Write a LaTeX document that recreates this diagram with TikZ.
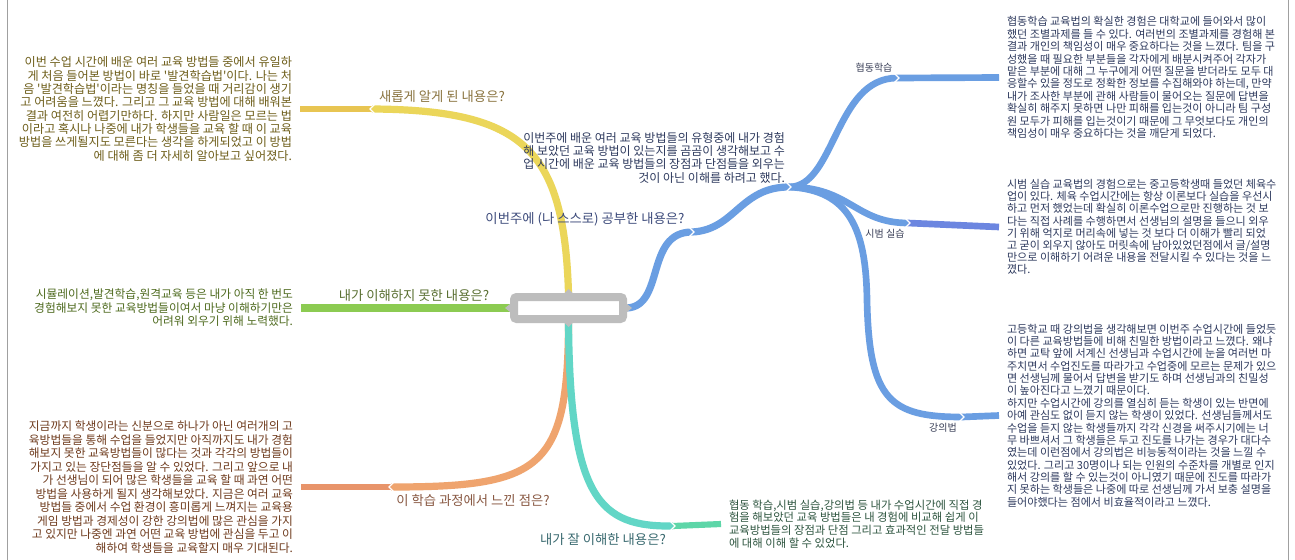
\documentclass[tikz,border=0pt]{standalone}
\usepackage{fontspec}
\newfontfamily\kr{Noto Sans CJK KR}
\definecolor{cyel}{HTML}{EBD65A}
\definecolor{cyel2}{HTML}{E8C552}
\definecolor{cgrn}{HTML}{8CCB52}
\definecolor{corg}{HTML}{EFA46E}
\definecolor{corg2}{HTML}{E8946A}
\definecolor{cteal}{HTML}{62D6C6}
\definecolor{cteal2}{HTML}{5DD6A8}
\definecolor{cblue}{HTML}{6A9EE2}
\definecolor{cblue2}{HTML}{6C86E0}
\definecolor{cgray}{HTML}{BDBDBD}
\definecolor{cframe}{HTML}{A0A0A0}
\definecolor{tyel}{HTML}{6E5E1A}
\definecolor{tgrn}{HTML}{4E6A1E}
\definecolor{torg}{HTML}{6E3A1C}
\definecolor{tteal}{HTML}{2E5540}
\definecolor{tblue}{HTML}{2E3A5E}
\definecolor{lyel}{HTML}{8A7440}
\definecolor{lblue}{HTML}{3E4C7C}
\definecolor{lgrn}{HTML}{5A7032}
\definecolor{lorg}{HTML}{8A5A44}
\definecolor{lteal}{HTML}{3A6A70}
\definecolor{lsub}{HTML}{3A4058}
\pgfdeclarelayer{bg}
\pgfdeclarelayer{lines}
\pgfsetlayers{bg,lines,main}
\tikzset{
  body/.style 2 args={font=\kr\fontsize{#1}{#2}\selectfont, inner sep=0pt, outer xsep=6pt, outer ysep=0pt},
  lbl/.style={font=\kr\fontsize{10}{12}\selectfont, inner sep=0pt},
  sublbl/.style={font=\kr\fontsize{7.5}{8}\selectfont, inner sep=0pt, text=lsub},
  br/.style={line width=5.4pt},
  brend/.style={line width=4.6pt},
  brsub/.style={line width=5pt, cblue},
  notchr/.style={white, line width=1pt},
}
\begin{document}
\begin{tikzpicture}[x=0.75pt,y=-0.75pt]
\useasboundingbox (0,0) rectangle (1295,560);
\begin{pgfonlayer}{bg}
\fill[white] (0,0) rectangle (1295,560);
\draw[cframe, line width=0.75pt] (7,0) -- (7,560);
\draw[cframe, line width=0.75pt] (1288,0) -- (1288,560);
\end{pgfonlayer}

% center
\node[draw=cgray, line width=6pt, fill=white, rounded corners=2pt, minimum width=81.75pt, minimum height=16.5pt, inner sep=0pt] (ctr) at (568.5,308) {};

% text blocks
\node[body={9.1}{10}, text=tyel, align=right, anchor=east] (ytxt) at (300,109) {이번 수업 시간에 배운 여러 교육 방법들 중에서 유일하\\게 처음 들어본 방법이 바로 '발견학습법'이다. 나는 처\\음 '발견학습법'이라는 명칭을 들었을 때 거리감이 생기\\고 어려움을 느꼈다. 그리고 그 교육 방법에 대해 배워본\\결과 여전히 어렵기만하다. 하지만 사람일은 모르는 법\\이라고 혹시나 나중에 내가 학생들을 교육 할 때 이 교육\\방법을 쓰게될지도 모른다는 생각을 하게되었고 이 방법\\에 대해 좀 더 자세히 알아보고 싶어졌다.};

\node[body={8.8}{10.1}, text=tgrn, align=right, anchor=east] (gtxt) at (301,308) {시뮬레이션,발견학습,원격교육 등은 내가 아직 한 번도\\경험해보지 못한 교육방법들이여서 마냥 이해하기만은\\어려워 외우기 위해 노력했다.};

\node[body={8.8}{10.1}, text=torg, align=right, anchor=east] (otxt) at (301,487) {지금까지 학생이라는 신분으로 하나가 아닌 여러개의 고\\육방법들을 통해 수업을 들었지만 아직까지도 내가 경험\\해보지 못한 교육방법들이 많다는 것과 각각의 방법들이\\가지고 있는 장단점들을 알 수 있었다. 그리고 앞으로 내\\가 선생님이 되어 많은 학생들을 교육 할 때 과연 어떤\\방법을 사용하게 될지 생각해보았다. 지금은 여러 교육\\방법들 중에서 수업 환경이 흥미롭게 느껴지는 교육용\\게임 방법과 경제성이 강한 강의법에 많은 관심을 가지\\고 있지만 나중엔 과연 어떤 교육 방법에 관심을 두고 이\\해하여 학생들을 교육할지 매우 기대된다.};

\node[body={8.5}{9.5}, text=tteal, align=left, anchor=west] (ttxt) at (721,524) {협동 학습,시범 실습,강의법 등 내가 수업시간에 직접 경\\험을 해보았던 교육 방법들은 내 경험에 비교해 쉽게 이\\교육방법들의 장점과 단점 그리고 효과적인 전달 방법들\\에 대해 이해 할 수 있었다.};

\node[body={9}{10}, text=tblue, align=right, anchor=south east] (mtxt) at (793,183) {이번주에 배운 여러 교육 방법들의 유형중에 내가 경험\\해 보았던 교육 방법이 있는지를 곰곰이 생각해보고 수\\업 시간에 배운 교육 방법들의 장점과 단점들을 외우는\\것이 아닌 이해를 하려고 했다.};

\node[body={8.3}{9.3}, text=tblue, align=left, anchor=west] (htxt) at (999,77.5) {협동학습 교육법의 확실한 경험은 대학교에 들어와서 많이\\했던 조별과제를 들 수 있다. 여러번의 조별과제를 경험해 본\\결과 개인의 책임성이 매우 중요하다는 것을 느꼈다. 팀을 구\\성했을 때 필요한 부분들을 각자에게 배분시켜주어 각자가\\맡은 부분에 대해 그 누구에게 어떤 질문을 받더라도 모두 대\\응할수 있을 정도로 정확한 정보를 수집해와야 하는데, 만약\\내가 조사한 부분에 관해 사람들이 물어오는 질문에 답변을\\확실히 해주지 못하면 나만 피해를 입는것이 아니라 팀 구성\\원 모두가 피해를 입는것이기 때문에 그 무엇보다도 개인의\\책임성이 매우 중요하다는 것을 깨닫게 되었다.};

\node[body={8.3}{9.1}, text=tblue, align=left, anchor=west] (stxt) at (999,227) {시범 실습 교육법의 경험으로는 중고등학생때 들었던 체육수\\업이 있다. 체육 수업시간에는 항상 이론보다 실습을 우선시\\하고 먼저 했었는데 확실히 이론수업으로만 진행하는 것 보\\다는 직접 사례를 수행하면서 선생님의 설명을 들으니 외우\\기 위해 억지로 머리속에 넣는 것 보다 더 이해가 빨리 되었\\고 굳이 외우지 않아도 머릿속에 남아있었던점에서 글/설명\\만으로 이해하기 어려운 내용을 전달시킬 수 있다는 것을 느\\꼈다.};

\node[body={8.3}{9.27}, text=tblue, align=left, anchor=west] (ktxt) at (999,415.5) {고등학교 때 강의법을 생각해보면 이번주 수업시간에 들었듯\\이 다른 교육방법들에 비해 친밀한 방법이라고 느꼈다. 왜냐\\하면 교탁 앞에 서계신 선생님과 수업시간에 눈을 여러번 마\\주치면서 수업진도를 따라가고 수업중에 모르는 문제가 있으\\면 선생님께 물어서 답변을 받기도 하며 선생님과의 친밀성\\이 높아진다고 느꼈기 때문이다.\\하지만 수업시간에 강의를 열심히 듣는 학생이 있는 반면에\\아예 관심도 없이 듣지 않는 학생이 있었다. 선생님들께서도\\수업을 듣지 않는 학생들까지 각각 신경을 써주시기에는 너\\무 바쁘셔서 그 학생들은 두고 진도를 나가는 경우가 대다수\\였는데 이런점에서 강의법은 비능동적이라는 것을 느낄 수\\있었다. 그리고 30명이나 되는 인원의 수준차를 개별로 인지\\해서 강의를 할 수 있는것이 아니였기 때문에 진도를 따라가\\지 못하는 학생들은 나중에 따로 선생님께 가서 보충 설명을\\들어야했다는 점에서 비효율적이라고 느꼈다.};

% junction coordinates
\coordinate (y1) at (372,109);
\coordinate (o1) at (391,487);
\coordinate (t1) at (673,526);
\coordinate (b1) at (692,232);
\coordinate (b2) at (789,187);
\coordinate (h1) at (897,78);
\coordinate (s1) at (908,223);
\coordinate (k1) at (962,417);

\begin{pgfonlayer}{lines}
% yellow
\draw[br, cyel] (ctr.north) .. controls (564,150) and (525,110) .. (y1);
\draw[brend, cyel2] (y1) -- (ytxt.east);
% green
\draw[br, cgrn] (ctr.west) -- (gtxt.east);
% orange
\draw[br, corg] (ctr.south) .. controls (568,470) and (540,487) .. (o1);
\draw[brend, corg2] (o1) -- (otxt.east);
% teal
\draw[br, cteal] (ctr.south) .. controls (570,500) and (600,527) .. (t1);
\draw[brend, cteal2] (t1) -- (ttxt.west);
% blue
\draw[br, cblue] (ctr.east) .. controls (665,306) and (645,232) .. (b1);
\draw[br, cblue] (b1) .. controls (735,230) and (740,187) .. (b2);
\draw[brsub] (b2) .. controls (835,187) and (835,78) .. (h1);
\draw[brsub] (h1) -- (htxt.west);
\draw[brsub] (b2) .. controls (850,187) and (855,223) .. (s1);
\draw[brsub, cblue2] (s1) -- (stxt.west);
\draw[brsub] (b2) .. controls (850,190) and (866,230) .. (867,300) .. controls (869,400) and (890,417) .. (k1);
\draw[brsub] (k1) -- (ktxt.west);

% notches
\foreach \p in {y1,o1}{
  \draw[notchr] ([shift={(3,-5)}]\p) -- ([shift={(-2,0)}]\p) -- ([shift={(3,5)}]\p);
}
\foreach \p in {t1,b1,b2,h1,s1,k1}{
  \draw[notchr] ([shift={(-3,-5)}]\p) -- ([shift={(2,0)}]\p) -- ([shift={(-3,5)}]\p);
}
\end{pgfonlayer}

% small triangles on the centre box
\fill[cgray] (ctr.west) ++(-5,0) -- ++(5,-4) -- ++(0,8) -- cycle;
\fill[cgray] (ctr.east) ++(5,0) -- ++(-5,-4) -- ++(0,8) -- cycle;
\fill[cgray] (ctr.north) ++(0,-4) -- ++(-4,4) -- ++(8,0) -- cycle;
\fill[cgray] (ctr.south) ++(0,4) -- ++(-4,-4) -- ++(8,0) -- cycle;

% labels
\node[lbl, text=lyel] (ylbl) at (442,97) {새롭게 알게 된 내용은?};
\node[lbl, text=lblue] (blbl) at (585,219) {이번주에 (나 스스로) 공부한 내용은?};
\node[lbl, text=lgrn] (glbl) at (414,296) {내가 이해하지 못한 내용은?};
\node[lbl, text=lorg] (olbl) at (473,500) {이 학습 과정에서 느낀 점은?};
\node[lbl, text=lteal] (tlbl) at (603,540) {내가 잘 이해한 내용은?};
\node[sublbl] (hlbl) at (874,68) {협동학습};
\node[sublbl] (slbl) at (885,234) {시범 실습};
\node[sublbl] (klbl) at (943,428) {강의법};
\end{tikzpicture}
\end{document}
